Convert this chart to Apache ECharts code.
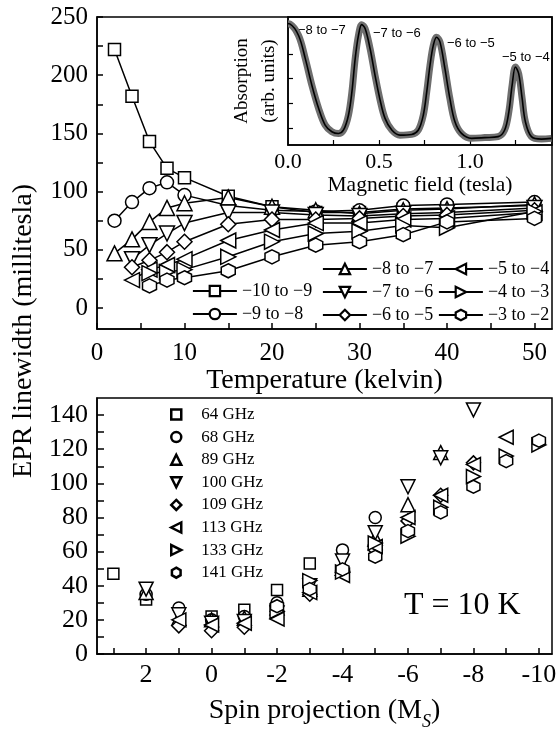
<!DOCTYPE html>
<html>
<head>
<meta charset="utf-8">
<title>EPR linewidth</title>
<script src="https://cdn.jsdelivr.net/npm/echarts@6/dist/echarts.min.js"></script>
<style>
html, body { margin: 0; padding: 0; background: #fff; }
#chart { width: 556px; height: 732px; }
</style>
</head>
<body>
<div id="chart"></div>
<script>
// top panel: linewidth vs temperature, one list per transition
var temps = [2, 4, 6, 8, 10, 15, 20, 25, 30, 35, 40, 50];
var lw10to9 = [222, 182, 143, 120, 112, 96, 87, 82, 82, 85, 86, 88];
var lw9to8 = [75, 91, 103, 108, 97, 88, 84, 83, 84, 88, 89, 91];
var lw8to7 = [47, 59, 74, 86, 90, 95, 87, 84, 81, 84, 85, 89];
var lw7to6 = [null, 42, 54, 64, 73, 82, 82, 80, 79, 81, 82, 86];
var lw6to5 = [null, 35, 41, 48, 57, 72, 76, 76, 77, 79, 80, 84];
var lw5to4 = [null, 24, 33, 37, 42, 58, 67, 73, 73, 76, 77, 82];
var lw4to3 = [null, null, 30, 31, 33, 44, 57, 64, 66, 71, 69, 83];
var lw3to2 = [null, null, 19, 24, 26, 32, 44, 54, 57, 63, 74, 77];
var transNames = ['−10 to −9', '−9 to −8', '−8 to −7', '−7 to −6', '−6 to −5', '−5 to −4', '−4 to −3', '−3 to −2'];

// inset: absorption spectrum
var field = [0, 0.01, 0.058, 0.095, 0.131, 0.168, 0.204, 0.241, 0.277, 0.305, 0.332, 0.351, 0.369, 0.387, 0.405, 0.424,
  0.451, 0.478, 0.506, 0.533, 0.57, 0.615, 0.679, 0.716, 0.743, 0.762, 0.78, 0.798, 0.816, 0.835, 0.862, 0.889,
  0.917, 0.953, 1.008, 1.081, 1.154, 1.19, 1.213, 1.231, 1.249, 1.267, 1.286, 1.304, 1.337, 1.392, 1.447];
var absorption = [5.23, 5.22, 4.75, 3.81, 2.73, 1.79, 1.11, 0.84, 0.77, 0.91, 1.51, 2.46, 3.81, 4.75, 5.19, 5.02,
  4.21, 3.13, 2.12, 1.38, 0.91, 0.70, 0.73, 0.91, 1.51, 2.46, 3.54, 4.35, 4.68, 4.48, 3.40, 2.19,
  1.24, 0.77, 0.57, 0.60, 0.64, 0.91, 1.65, 2.73, 3.47, 3.20, 2.19, 1.24, 0.64, 0.54, 0.57];
var peakNames = ['−8 to −7', '−7 to −6', '−6 to −5', '−5 to −4'];

// bottom panel: linewidth vs spin projection at T = 10 K
var spin = [3, 2, 1, 0, -1, -2, -3, -4, -5, -6, -7, -8, -9, -10];
var ghz64 = [47, 32, null, 22, 26, 37.5, 53, null, null, null, null, null, null, null];
var ghz68 = [null, 35, 27, 20, 22, 30, null, 61, 80, null, null, null, null, null];
var ghz89 = [null, 36, 21, 20, 21, 27, 38, 52, 68, 87.5, 118, null, null, null];
var ghz100 = [null, 38, 23, 18, 19, 24, 40, 54.5, 71, 98, 115, 143, null, null];
var ghz109 = [null, null, 16.5, 13.6, 15.7, 25, 35, 48.6, 61, 78, 93, 112, null, null];
var ghz113 = [null, null, 20, 17, 18, 20.5, 36, 46, 63, 80, 93, 111, 127, null];
var ghz133 = [null, null, null, null, null, 25, 43, 48, 65, 69, 86, 104, 116, 122.5];
var ghz141 = [null, null, null, null, null, 28, 38, 49.6, 57, 72, 83, 98, 113, 125];
var freqNames = ['64 GHz', '68 GHz', '89 GHz', '100 GHz', '109 GHz', '113 GHz', '133 GHz', '141 GHz'];

var HEX = 'path://M50,0 L93.3,25 L93.3,75 L50,100 L6.7,75 L6.7,25 Z';
// square, circle, up, down, diamond, left, right, hexagon
var shapes = [
  { symbol: 'rect', rot: 0, size: 12, icon: 'rect' },
  { symbol: 'circle', rot: 0, size: 13, icon: 'circle' },
  { symbol: 'triangle', rot: 0, size: 15, icon: 'triangle' },
  { symbol: 'triangle', rot: 180, size: 15, icon: 'path://M0,0 L100,0 L50,100 Z' },
  { symbol: 'diamond', rot: 0, size: 15, icon: 'diamond' },
  { symbol: 'triangle', rot: 90, size: 15, icon: 'path://M100,0 L100,100 L0,50 Z' },
  { symbol: 'triangle', rot: -90, size: 15, icon: 'path://M0,0 L0,100 L100,50 Z' },
  { symbol: HEX, rot: 0, size: 14, icon: HEX }
];

var FONT = 'Liberation Serif';

function pairs(xs, ys) {
  var out = [];
  for (var i = 0; i < xs.length; i++) {
    if (ys[i] != null) out.push([xs[i], ys[i]]);
  }
  return out;
}

function range(a, b, step) {
  var out = [];
  for (var v = a; step > 0 ? v <= b + 1e-9 : v >= b - 1e-9; v += step) out.push(Math.round(v * 100) / 100);
  return out;
}

var series = [];
var topData = [lw10to9, lw9to8, lw8to7, lw7to6, lw6to5, lw5to4, lw4to3, lw3to2];
topData.forEach(function (vals, i) {
  series.push({
    name: transNames[i],
    type: 'line',
    xAxisIndex: 0,
    yAxisIndex: 0,
    data: pairs(temps, vals),
    symbol: shapes[i].symbol,
    symbolSize: shapes[i].size,
    symbolRotate: shapes[i].rot,
    showAllSymbol: true,
    lineStyle: { color: '#000', width: 1.5 },
    itemStyle: { color: '#fff', borderColor: '#000', borderWidth: 1.5 },
    emphasis: { disabled: true }
  });
});

// inset: grey band of data points with the black fit on top
series.push({
  type: 'line', xAxisIndex: 1, yAxisIndex: 1,
  data: pairs(field, absorption), smooth: 0.35, symbol: 'none',
  lineStyle: { color: '#6e6e6e', width: 7 }, emphasis: { disabled: true }
});
series.push({
  type: 'line', xAxisIndex: 1, yAxisIndex: 1,
  data: pairs(field, absorption), smooth: 0.35, symbol: 'none',
  lineStyle: { color: '#000', width: 1.6 }, emphasis: { disabled: true }
});

var bottomData = [ghz64, ghz68, ghz89, ghz100, ghz109, ghz113, ghz133, ghz141];
bottomData.forEach(function (vals, i) {
  series.push({
    name: freqNames[i],
    type: 'scatter',
    xAxisIndex: 2,
    yAxisIndex: 2,
    data: pairs(spin, vals),
    symbol: shapes[i].symbol,
    symbolSize: shapes[i].size - 1,
    symbolRotate: shapes[i].rot,
    itemStyle: { color: '#fff', borderColor: '#000', borderWidth: 1.5, opacity: 1 },
    emphasis: { disabled: true }
  });
});

var axisLine = { show: true, onZero: false, lineStyle: { color: '#000', width: 1.5 } };

function legendCol(names, left, top, w, h, gap, size) {
  return {
    data: names,
    orient: 'vertical', left: left, top: top, padding: 0,
    itemWidth: w, itemHeight: h, itemGap: gap, selectedMode: false,
    itemStyle: { borderWidth: 2.2, opacity: 1 }, lineStyle: { width: 1.8 },
    textStyle: { fontFamily: FONT, fontSize: size, color: '#000' }
  };
}

// scatter legend icons do not follow symbolRotate, so give them ready-made shapes
var bottomLegend = legendCol(freqNames, 170, 406, 10, 10, 5.6, 17);
bottomLegend.data = freqNames.map(function (n, i) {
  return { name: n, icon: shapes[i].icon };
});
bottomLegend.itemStyle = { borderWidth: 2.5, opacity: 1 };
bottomLegend.textStyle.padding = [0, 0, 0, 15];

var myChart = echarts.init(document.getElementById('chart'), null, { renderer: 'canvas' });
myChart.setOption({
  animation: false,
  textStyle: { fontFamily: FONT, color: '#000' },
  grid: [
    { left: 97, top: 17, width: 455, height: 312, show: true, borderColor: '#000', borderWidth: 1.5, outerBoundsMode: 'none' },
    { left: 288, top: 17, width: 264, height: 128, show: true, borderColor: '#000', borderWidth: 1.5, outerBoundsMode: 'none' },
    { left: 97, top: 398, width: 455, height: 256, show: true, borderColor: '#000', borderWidth: 1.5, outerBoundsMode: 'none' }
  ],
  legend: [
    legendCol(transNames.slice(0, 2), 192, 282, 44, 13, 5, 18),
    legendCol(transNames.slice(2, 5), 322, 260, 44, 13, 5, 18),
    legendCol(transNames.slice(5, 8), 438, 260, 44, 13, 5, 18),
    bottomLegend
  ],
  xAxis: [
    {
      type: 'value', gridIndex: 0, min: 0, max: 52,
      axisLine: axisLine,
      axisTick: { inside: true, length: 6, lineStyle: { width: 1.5 }, customValues: range(0, 50, 5) },
      axisLabel: { customValues: range(0, 50, 10), fontSize: 25, color: '#000', margin: 12 },
      splitLine: { show: false },
      name: 'Temperature (kelvin)', nameLocation: 'middle', nameGap: 36,
      nameTextStyle: { fontSize: 28, color: '#000' }
    },
    {
      type: 'value', gridIndex: 1, min: 0, max: 1.45,
      axisLine: axisLine,
      axisTick: { inside: true, length: 5, lineStyle: { width: 1.2 }, customValues: [0.25, 0.5, 0.75, 1, 1.25] },
      axisLabel: {
        customValues: [0, 0.5, 1], fontSize: 22, color: '#000', margin: 6,
        formatter: function (v) { return v.toFixed(1); }
      },
      splitLine: { show: false },
      name: 'Magnetic field (tesla)', nameLocation: 'middle', nameGap: 27,
      nameTextStyle: { fontSize: 21.5, color: '#000' }
    },
    {
      type: 'value', gridIndex: 2, min: -10.4, max: 3.5, inverse: true,
      axisLine: axisLine,
      axisTick: { inside: true, length: 6, lineStyle: { width: 1.5 }, customValues: range(3, -10, -1) },
      axisLabel: { customValues: range(2, -10, -2), fontSize: 26, color: '#000', margin: 8 },
      splitLine: { show: false },
      name: 'Spin projection (M{sub|S})', nameLocation: 'middle', nameGap: 37,
      nameTextStyle: {
        fontSize: 28, color: '#000', lineHeight: 40,
        rich: { sub: { fontSize: 18, fontStyle: 'italic', verticalAlign: 'bottom', lineHeight: 40, fontFamily: FONT } }
      }
    }
  ],
  yAxis: [
    {
      type: 'value', gridIndex: 0, min: -18, max: 250,
      axisLine: axisLine,
      axisTick: { inside: true, length: 6, lineStyle: { width: 1.5 }, customValues: range(0, 250, 25) },
      axisLabel: { customValues: range(0, 250, 50), fontSize: 25, color: '#000', margin: 9 },
      splitLine: { show: false }
    },
    {
      type: 'value', gridIndex: 1, min: 0.3, max: 5.5,
      axisLine: axisLine,
      axisTick: { inside: true, length: 5, lineStyle: { width: 1.2 }, customValues: [1, 2, 3, 4] },
      axisLabel: { show: false },
      splitLine: { show: false },
      name: 'Absorption\n(arb. units)', nameLocation: 'middle', nameRotate: 90, nameGap: 5,
      nameTextStyle: { fontSize: 19, lineHeight: 27, color: '#000' }
    },
    {
      type: 'value', gridIndex: 2, min: 0, max: 150,
      axisLine: axisLine,
      axisTick: { inside: true, length: 7, lineStyle: { width: 1.5 }, customValues: range(0, 140, 10) },
      axisLabel: { customValues: range(0, 140, 20), fontSize: 26, color: '#000', margin: 9 },
      splitLine: { show: false }
    }
  ],
  graphic: [
    {
      type: 'text', x: 24, y: 331, rotation: Math.PI / 2,
      style: { text: 'EPR linewidth (millitesla)', fontSize: 28, fontFamily: FONT, fill: '#000', align: 'center', verticalAlign: 'middle' }
    },
    {
      type: 'text', x: 404, y: 606,
      style: { text: 'T = 10 K', fontSize: 32, fontFamily: FONT, fill: '#000', align: 'left', verticalAlign: 'middle' }
    },
    { type: 'text', x: 298, y: 30, style: { text: peakNames[0], fontSize: 13, fontFamily: 'Liberation Sans', fill: '#000', verticalAlign: 'middle' } },
    { type: 'text', x: 373, y: 33, style: { text: peakNames[1], fontSize: 13, fontFamily: 'Liberation Sans', fill: '#000', verticalAlign: 'middle' } },
    { type: 'text', x: 447, y: 43, style: { text: peakNames[2], fontSize: 13, fontFamily: 'Liberation Sans', fill: '#000', verticalAlign: 'middle' } },
    { type: 'text', x: 502, y: 57, style: { text: peakNames[3], fontSize: 13, fontFamily: 'Liberation Sans', fill: '#000', verticalAlign: 'middle' } }
  ],
  series: series
});
</script>
</body>
</html>
